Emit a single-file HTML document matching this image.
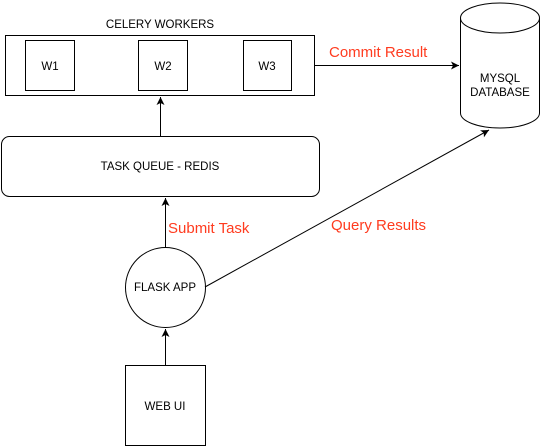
<!DOCTYPE html>
<html><head><meta charset="utf-8"><style>body{margin:0;background:#fff}svg{display:block}</style></head>
<body>
<svg width="541" height="446" xmlns="http://www.w3.org/2000/svg" font-family="Liberation Sans, Arial, sans-serif">
<defs><marker id="a" markerWidth="10" markerHeight="10" refX="9" refY="5" orient="auto" markerUnits="userSpaceOnUse"><path d="M1,1 L9,5 L1,9 L3,5 Z" fill="#000"/></marker></defs>
<g fill="#fff" stroke="#000" stroke-width="1">
<rect x="5.5" y="35.5" width="309" height="60"/>
<rect x="25.5" y="40.5" width="49" height="50"/>
<rect x="138.5" y="40.5" width="49" height="50"/>
<rect x="243.5" y="40.5" width="48" height="50"/>
<rect x="1.5" y="136.5" width="318" height="60" rx="8"/>
<circle cx="165.5" cy="287.5" r="40"/>
<rect x="125.5" y="365.5" width="80" height="80"/>
<path d="M460.5,18 A39.5,15 0 0 1 539.5,18 L539.5,113 A39.5,15 0 0 1 460.5,113 Z"/>
<path d="M460.5,18 A39.5,15 0 0 0 539.5,18" fill="none"/>
</g>
<g stroke="#000" fill="none">
<line x1="160.5" y1="136" x2="160.5" y2="97" marker-end="url(#a)"/>
<line x1="165.5" y1="247" x2="165.5" y2="198" marker-end="url(#a)"/>
<line x1="165.5" y1="365" x2="165.5" y2="329" marker-end="url(#a)"/>
<line x1="314" y1="65.5" x2="459" y2="65.5" marker-end="url(#a)"/>
<line x1="205" y1="287" x2="489" y2="130" marker-end="url(#a)"/>
</g>
<g font-size="11.5" text-anchor="middle" fill="#000">
<text x="160" y="28">CELERY WORKERS</text>
<text x="50" y="70">W1</text>
<text x="163" y="70">W2</text>
<text x="267" y="70">W3</text>
<text x="160" y="170">TASK QUEUE - REDIS</text>
<text x="165" y="291">FLASK APP</text>
<text x="165" y="410">WEB UI</text>
<text x="500" y="82">MYSQL</text>
<text x="500" y="96">DATABASE</text>
</g>
<g font-size="15" fill="#ff3b1f">
<text x="329" y="57">Commit Result</text>
<text x="168" y="233">Submit Task</text>
<text x="331" y="230">Query Results</text>
</g>
</svg>
</body></html>
